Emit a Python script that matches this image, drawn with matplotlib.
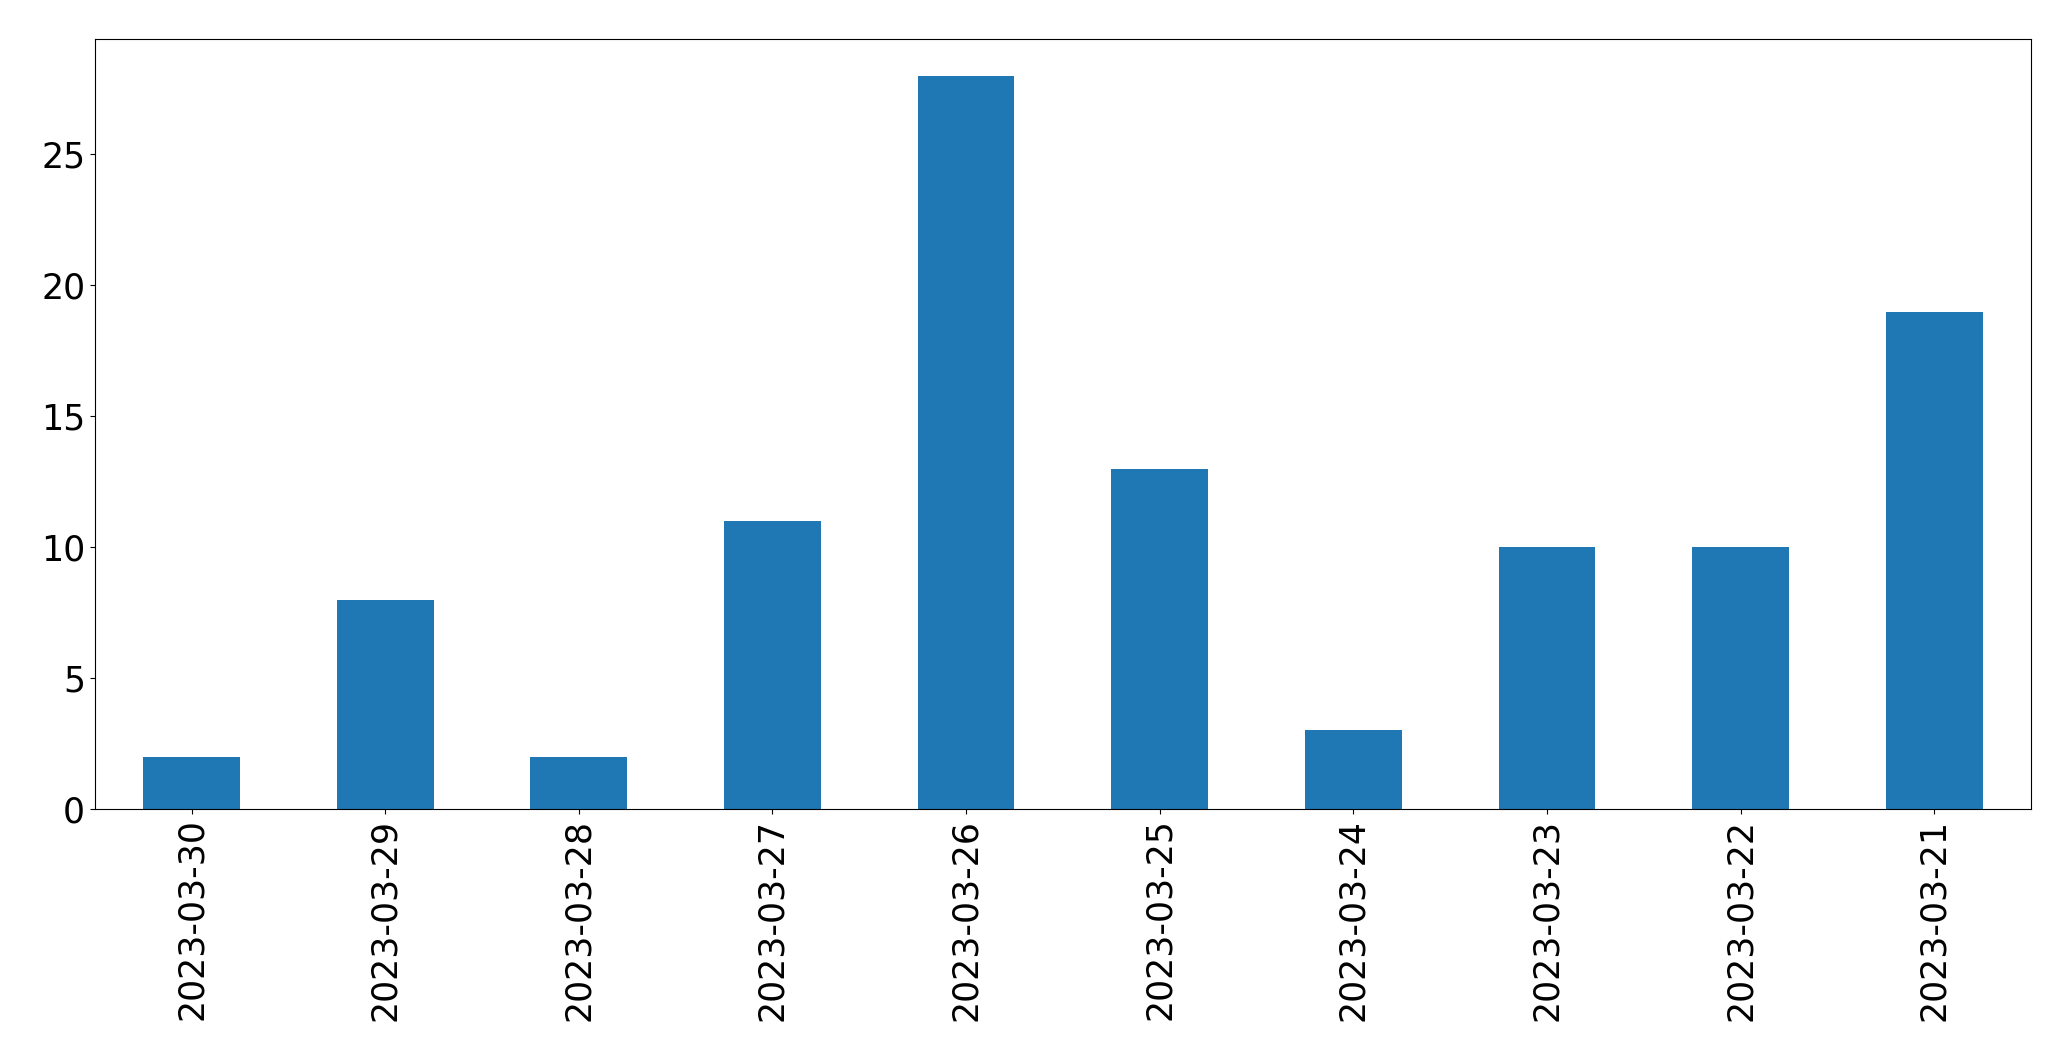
import matplotlib
matplotlib.use('Agg')
import matplotlib.pyplot as plt

dates = ['2023-03-30', '2023-03-29', '2023-03-28', '2023-03-27', '2023-03-26',
         '2023-03-25', '2023-03-24', '2023-03-23', '2023-03-22', '2023-03-21']
counts = [2, 8, 2, 11, 28, 13, 3, 10, 10, 19]

W, H = 2071, 1061
fig = plt.figure(figsize=(W / 100, H / 100), dpi=100)
left, right, top, bottom = 94.7, 2031, 39.3, 809
ax = fig.add_axes([left / W, 1 - bottom / H, (right - left) / W, (bottom - top) / H])

pos = list(range(len(dates)))
ax.bar(pos, counts, width=0.5, color='#1f77b4')
ax.set_xlim(-0.5, len(dates) - 0.5)
ax.set_ylim(0, max(counts) * 1.05)
ax.set_xticks(pos)
ax.set_xticklabels(dates, rotation=90)
ax.tick_params(labelsize=25, length=4.7 * 72 / 100)

fig.savefig('out.png', dpi=100)
